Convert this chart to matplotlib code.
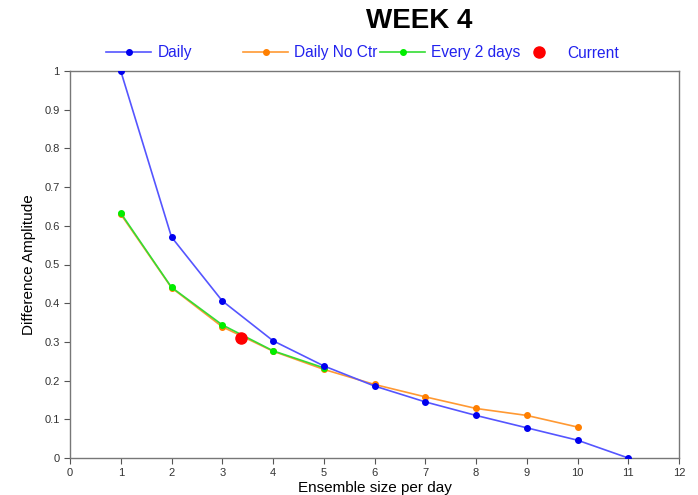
import matplotlib
matplotlib.use("Agg")
import matplotlib.pyplot as plt
from matplotlib.lines import Line2D

plt.rcParams['font.family'] = ['Liberation Sans', 'DejaVu Sans']

x_daily = [1, 2, 3, 4, 5, 6, 7, 8, 9, 10, 11]
daily = [1.0, 0.571, 0.406, 0.303, 0.238, 0.186, 0.145, 0.110, 0.078, 0.046, 0.0]
x_noctr = [1, 2, 3, 4, 5, 6, 7, 8, 9, 10]
daily_noctr = [0.630, 0.440, 0.339, 0.276, 0.229, 0.190, 0.158, 0.128, 0.110, 0.080]
x_every2 = [1, 2, 3, 4, 5]
every2 = [0.633, 0.441, 0.344, 0.277, 0.233]
current_x = [3.36]
current_y = [0.311]

W, H = 698, 495
fig = plt.figure(figsize=(W/100, H/100), dpi=100)
ax = fig.add_axes([70/W, 1-458/H, (679-70)/W, (458-71)/H])

ax.plot(x_noctr, daily_noctr, color='#ff9933', lw=1.2, marker='o', ms=4, mfc='#ff7f00', mec='#ff7f00', label='Daily No Ctr', zorder=2)
ax.plot(x_every2, every2, color='#33dd33', lw=1.2, marker='o', ms=4, mfc='#00ee00', mec='#00ee00', label='Every 2 days', zorder=3)
ax.plot(x_daily, daily, color='#5555ff', lw=1.2, marker='o', ms=4, mfc='#0000ee', mec='#0000ee', label='Daily', zorder=4)
ax.plot(current_x, current_y, ls='none', marker='o', ms=8, color='#ff0000', label='Current', zorder=5)

ax.set_xlim(0, 12)
ax.set_ylim(0, 1)
ax.set_xticks(range(0, 13))
ax.set_yticks([i/10 for i in range(11)])
ax.set_yticklabels(['0'] + ['0.%d' % i for i in range(1, 10)] + ['1'])
ax.tick_params(direction='out', length=4, labelsize=8, color='#555555', labelcolor='#333333', width=0.8)
for s in ax.spines.values():
    s.set_color('#777777')
    s.set_linewidth(1)
ax.set_xlabel('Ensemble size per day', fontsize=11, labelpad=2)
ax.set_ylabel('Difference Amplitude', fontsize=11, labelpad=6)

fig.text(419/W, 1-28/H, 'WEEK 4', ha='center', va='baseline', fontsize=20, fontweight='bold')

handles = [
    Line2D([], [], color='#5555ff', lw=1.2, marker='o', ms=4, mfc='#0000ee', mec='#0000ee'),
    Line2D([], [], color='#ff9933', lw=1.2, marker='o', ms=4, mfc='#ff7f00', mec='#ff7f00'),
    Line2D([], [], color='#33dd33', lw=1.2, marker='o', ms=4, mfc='#00ee00', mec='#00ee00'),
    Line2D([], [], ls='none', marker='o', ms=8, color='#ff0000'),
]
labels = ['Daily', 'Daily No Ctr', 'Every 2 days', 'Current']
lefts = [106, 243, 380, 516]
for h, lab, lx in zip(handles, labels, lefts):
    leg = fig.legend([h], [lab], loc='center left', bbox_to_anchor=(lx/W, 1-53/H),
                     frameon=False, fontsize=11.2, handlelength=2.9, handletextpad=0.4,
                     borderpad=0, borderaxespad=0)
    for t in leg.get_texts():
        t.set_color('#2222ee')

fig.savefig('out.png', dpi=100)
